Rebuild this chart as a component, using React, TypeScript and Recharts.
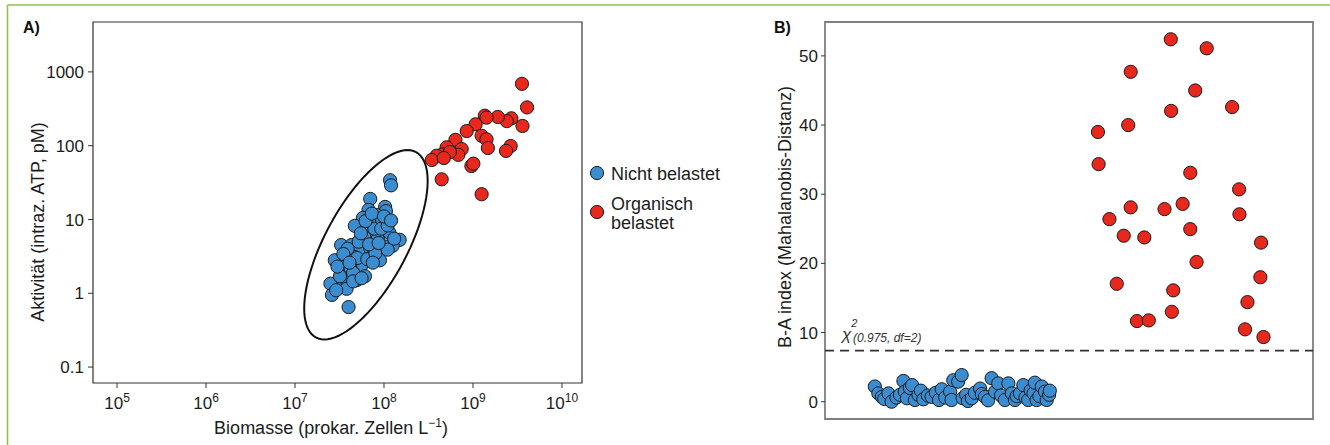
import React from 'react';
import {
  ScatterChart,
  Scatter,
  XAxis,
  YAxis,
  ReferenceArea,
  ReferenceLine,
} from 'recharts';

// Panel A: Biomasse (Zellen/L) vs. Aktivität (ATP, pM), both log10
const nichtBelastetA: [number, number][] = [
  [1.17e8, 34], [1.2e8, 29], [7.0e7, 19], [1.03e8, 14.8], [1.05e8, 13], [6.7e7, 13.5],
  [5.8e7, 10.5], [8.2e7, 11.5], [4.7e7, 8.2], [6.5e7, 8.5], [8.0e7, 9.0], [1.0e8, 9.0],
  [7.0e7, 6.6], [9.0e7, 6.4], [1.15e8, 6.6], [1.5e8, 5.3], [5.8e7, 4.9], [3.3e7, 4.5],
  [4.3e7, 4.5], [1.25e8, 4.4], [1.02e8, 4.3], [5.3e7, 3.9], [7.0e7, 4.1], [3.8e7, 3.6],
  [7.6e7, 3.3], [9.0e7, 2.8], [2.8e7, 2.8], [3.6e7, 2.4], [4.7e7, 3.1], [5.5e7, 2.3],
  [4.2e7, 2.2], [6.1e7, 1.7], [4.9e7, 1.5], [3.7e7, 1.55], [2.8e7, 1.3], [2.5e7, 1.35],
  [3.8e7, 1.15], [2.6e7, 0.95], [4.0e7, 0.65], [6.0e7, 5.8], [8.5e7, 5.5], [7.8e7, 7.5],
  [9.5e7, 10.0], [6.2e7, 9.5], [5.0e7, 3.0], [6.5e7, 2.9], [8.0e7, 3.5], [1.1e8, 3.9],
  [4.5e7, 1.9], [3.2e7, 1.7], [3.0e7, 2.3], [5.2e7, 5.0], [9.3e7, 7.5], [1.3e8, 5.5],
  [7.3e7, 12.0], [1.1e8, 8.3], [6.8e7, 4.6], [3.9e7, 4.0], [4.5e7, 1.45], [5.6e7, 1.6],
  [8.7e7, 4.8], [7.5e7, 2.6], [3.5e7, 3.4], [1.0e8, 11.0], [5.5e7, 6.5], [1.2e8, 9.7],
  [4.1e7, 2.6], [2.9e7, 1.1],
];

const organischA: [number, number][] = [
  [3.55e9, 690], [4.05e9, 330], [3.6e9, 185], [2.7e9, 235], [2.4e9, 215], [1.9e9, 245],
  [1.36e9, 255], [1.42e9, 240], [1.07e9, 195], [8.5e8, 158], [1.25e9, 136], [1.42e9, 122],
  [1.47e9, 93], [6.35e8, 120], [5.06e8, 95], [7.46e8, 90], [6.84e8, 75], [4.5e8, 76],
  [3.9e8, 73], [3.44e8, 64], [2.65e9, 99], [2.35e9, 85], [9.6e8, 53], [1.01e9, 57],
  [4.45e8, 35], [1.25e9, 22], [5.5e8, 82], [4.7e8, 68],
];

// 97.5% ellipse of the unpolluted group, in log10 units (centre + conjugate semi-axes)
const ellipseCenter = { x: 7.797, y: 0.657 };
const ellipseAxisU = { x: 0.467, y: 1.283 };
const ellipseAxisV = { x: 0.513, y: 0 };

const xTicksA = [1e5, 1e6, 1e7, 1e8, 1e9, 1e10];
const yTicksA = [0.1, 1, 10, 100, 1000];
const xDomainA: [number, number] = [Math.pow(10, 4.73), Math.pow(10, 10.225)];
const yDomainA: [number, number] = [Math.pow(10, -1.216), Math.pow(10, 3.676)];

// Panel B: B-A index per sample (sample position, Mahalanobis distance)
const nichtBelastetB: [number, number][] = [
  [14.3, 2.2], [15.3, 1.2], [16.3, 0.7], [17.0, 0.4], [18.2, 1.2], [19.1, 0.0], [20.5, 0.6],
  [21.5, 1.0], [22.5, 3.0], [22.9, 1.45], [23.5, 0.5], [24.3, 2.0], [25.0, 2.4], [25.8, 0.25],
  [26.8, 1.0], [27.5, 1.6], [28.2, 0.35], [29.5, 0.9], [30.6, 0.7], [31.8, 1.3], [32.7, 0.25],
  [33.5, 1.8], [34.5, 0.6], [35.9, 1.45], [36.3, 0.25], [36.8, 3.1], [38.2, 2.9], [39.2, 3.85],
  [39.5, 0.5], [40.5, 1.0], [41.0, 0.1], [42.1, 0.5], [43.0, 1.3], [44.5, 1.9], [45.0, 1.1],
  [45.9, 0.7], [46.8, 0.2], [47.8, 3.4], [48.8, 1.45], [49.7, 2.65], [50.5, 0.9], [51.6, 0.25],
  [52.6, 2.65], [53.6, 1.2], [54.5, 0.25], [55.0, 0.8], [55.9, 1.2], [56.9, 2.4], [57.5, 0.6],
  [58.3, 0.25], [59.0, 1.6], [59.8, 1.2], [60.2, 2.75], [60.7, 0.25], [61.5, 0.8], [62.2, 2.2],
  [63.1, 1.45], [63.6, 0.25], [64.3, 1.0], [64.5, 1.6],
];

const organischB: [number, number][] = [
  [99.2, 52.4], [109.5, 51.1], [87.7, 47.7], [106.2, 45.0], [99.3, 42.05], [116.8, 42.6],
  [87.0, 40.0], [78.3, 39.0], [78.5, 34.35], [104.8, 33.1], [118.8, 30.7], [118.9, 27.1],
  [87.7, 28.1], [97.4, 27.85], [102.6, 28.6], [81.6, 26.4], [85.7, 24.0], [91.6, 23.75],
  [104.8, 24.95], [125.1, 23.0], [106.6, 20.2], [124.9, 18.0], [83.7, 17.05], [99.9, 16.1],
  [121.2, 14.4], [99.5, 13.0], [89.5, 11.66], [92.9, 11.76], [120.5, 10.46], [125.8, 9.35],
];

const chiCrit = 7.378; // chi^2 (0.975, df=2)
const yTicksB = [0, 10, 20, 30, 40, 50];
const yDomainB: [number, number] = [-2.5, 54.9];
const xDomainB: [number, number] = [0, 140];

const BLUE = '#3a8dd0';
const RED = '#e8281c';
const GREEN = '#93c149';
const INK = '#1c1c1c';
const FONT = '"Liberation Sans", Arial, sans-serif';

const toPoints = (arr: [number, number][]) => arr.map(([x, y]) => ({ x, y }));

const ellipsePoints = Array.from({ length: 91 }, (_, i) => {
  const t = (i / 90) * 2 * Math.PI;
  const lx = ellipseCenter.x + ellipseAxisU.x * Math.cos(t) + ellipseAxisV.x * Math.sin(t);
  const ly = ellipseCenter.y + ellipseAxisU.y * Math.cos(t) + ellipseAxisV.y * Math.sin(t);
  return { x: Math.pow(10, lx), y: Math.pow(10, ly) };
});

const dot = (fill: string) => (props: any) => {
  if (props.cx == null || props.cy == null) return <g />;
  return <circle cx={props.cx} cy={props.cy} r={6.6} fill={fill} stroke="#1a1a1a" strokeWidth={1} />;
};

const PowTick = (props: any) => {
  const { x, y, payload } = props;
  const exp = Math.round(Math.log10(payload.value));
  return (
    <text x={x} y={y + 19} textAnchor="middle" fill={INK} fontSize={17}>
      10<tspan dy={-7} fontSize={12}>{exp}</tspan>
    </text>
  );
};

const PanelA = () => (
  <ScatterChart
    width={590}
    height={445}
    margin={{ top: 22, right: 8, left: 33, bottom: 32 }}
  >
    <XAxis
      type="number"
      dataKey="x"
      scale="log"
      domain={xDomainA}
      ticks={xTicksA}
      interval={0}
      allowDataOverflow
      axisLine={false}
      tickLine={{ stroke: '#333' }}
      tickSize={5}
      tickMargin={2}
      height={30}
      tick={<PowTick />}
    />
    <YAxis
      type="number"
      dataKey="y"
      scale="log"
      domain={yDomainA}
      ticks={yTicksA}
      interval={0}
      allowDataOverflow
      axisLine={false}
      tickLine={{ stroke: '#333' }}
      tickSize={5}
      tickMargin={4}
      width={60}
      tick={{ fill: INK, fontSize: 17 }}
    />
    <ReferenceArea
      x1={xDomainA[0]}
      x2={xDomainA[1]}
      y1={yDomainA[0]}
      y2={yDomainA[1]}
      fill="none"
      stroke="#333"
      strokeWidth={1.2}
      ifOverflow="visible"
    />
    <Scatter
      data={ellipsePoints}
      shape={() => <g />}
      line={{ stroke: '#111', strokeWidth: 2 }}
      isAnimationActive={false}
    />
    <Scatter data={toPoints(nichtBelastetA)} shape={dot(BLUE)} isAnimationActive={false} />
    <Scatter data={toPoints(organischA)} shape={dot(RED)} isAnimationActive={false} />
  </ScatterChart>
);

const PanelB = () => (
  <ScatterChart
    width={570}
    height={445}
    margin={{ top: 22, right: 17, left: 25, bottom: 26 }}
  >
    <XAxis type="number" dataKey="x" domain={xDomainB} hide />
    <YAxis
      type="number"
      dataKey="y"
      domain={yDomainB}
      ticks={yTicksB}
      interval={0}
      allowDataOverflow
      axisLine={false}
      tickLine={{ stroke: '#333' }}
      tickSize={4}
      tickMargin={3}
      width={40}
      tick={{ fill: INK, fontSize: 17 }}
    />
    <ReferenceArea
      x1={xDomainB[0]}
      x2={xDomainB[1]}
      y1={yDomainB[0]}
      y2={yDomainB[1]}
      fill="none"
      stroke="#7f7f7f"
      strokeWidth={1.8}
      ifOverflow="visible"
    />
    <ReferenceLine y={chiCrit} stroke="#333" strokeWidth={1.8} strokeDasharray="9 6" />
    <Scatter data={toPoints(nichtBelastetB)} shape={dot(BLUE)} isAnimationActive={false} />
    <Scatter data={toPoints(organischB)} shape={dot(RED)} isAnimationActive={false} />
  </ScatterChart>
);

export default function App() {
  return (
    <div
      style={{
        position: 'absolute',
        left: 0,
        top: 0,
        width: 1330,
        height: 445,
        background: '#fff',
        fontFamily: FONT,
        overflow: 'hidden',
      }}
    >
      <div style={{ position: 'absolute', left: 0, top: 0 }}>
        <PanelA />
      </div>
      <div style={{ position: 'absolute', left: 760, top: 0 }}>
        <PanelB />
      </div>
      <svg
        width={1330}
        height={445}
        style={{ position: 'absolute', left: 0, top: 0, pointerEvents: 'none' }}
        fontFamily={FONT}
      >
        <line x1={7.5} y1={5} x2={1330} y2={5} stroke={GREEN} strokeWidth={1.6} />
        <line x1={7.5} y1={5} x2={7.5} y2={445} stroke={GREEN} strokeWidth={1.6} />

        <text x={23} y={33} fontSize={16} fontWeight="bold" fill="#111">A)</text>
        <text x={774} y={33} fontSize={16} fontWeight="bold" fill="#111">B)</text>

        <text
          transform="translate(37.5,222) rotate(-90)"
          textAnchor="middle"
          dominantBaseline="central"
          fontSize={18}
          fill={INK}
        >
          Aktivität (intraz. ATP, pM)
        </text>
        <text x={331} y={434} textAnchor="middle" fontSize={18} fill={INK}>
          Biomasse (prokar. Zellen L<tspan dy={-7} fontSize={12}>−1</tspan>
          <tspan dy={7}>)</tspan>
        </text>

        <circle cx={597} cy={173} r={6.6} fill={BLUE} stroke="#1a1a1a" strokeWidth={1} />
        <text x={611} y={179.5} fontSize={18} fill={INK}>Nicht belastet</text>
        <circle cx={597} cy={212} r={6.6} fill={RED} stroke="#1a1a1a" strokeWidth={1} />
        <text x={611} y={209.5} fontSize={18} fill={INK}>Organisch</text>
        <text x={611} y={228.5} fontSize={18} fill={INK}>belastet</text>

        <text
          transform="translate(785,217) rotate(-90)"
          textAnchor="middle"
          dominantBaseline="central"
          fontSize={18}
          fill={INK}
        >
          B-A index (Mahalanobis-Distanz)
        </text>

        <text x={842} y={340} fontSize={17} fontStyle="italic" fill="#333">
          χ<tspan dy={-13} fontSize={11}>2</tspan>
          <tspan x={853} dy={15} fontSize={12}>(0.975, df=2)</tspan>
        </text>
      </svg>
    </div>
  );
}
